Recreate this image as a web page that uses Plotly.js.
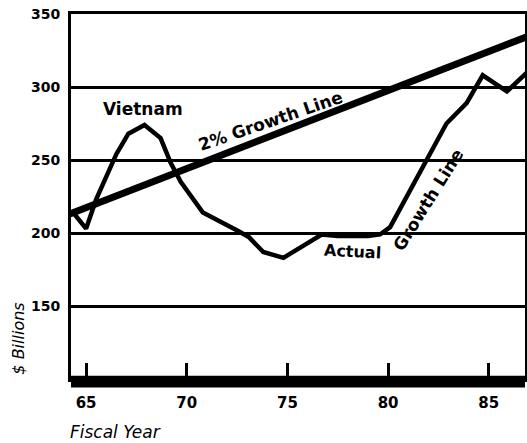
<!DOCTYPE html>
<html>
<head>
<meta charset="utf-8">
<script src="https://cdn.plot.ly/plotly-3.0.1.min.js"></script>
<style>html,body{margin:0;padding:0;background:#fff;}#chart{width:527px;height:443px;}</style>
</head>
<body>
<div id="chart"></div>
<script>
// Actual federal outlays ($ billions) by fiscal year
var actualYears = [64.3, 65.0, 65.5, 66.2, 66.5, 67.1, 67.9, 68.7, 69.2, 69.7, 70.8, 72.6, 73.1, 73.8, 74.8, 76.7, 77.5, 79.0, 79.6, 80.1, 81.7, 82.9, 83.9, 84.7, 85.9, 86.9];
var actualValues = [215, 203, 223, 245, 254, 268, 274, 265, 248, 235, 214, 201, 197, 187, 183, 199, 198, 198, 199, 204, 245, 275, 289, 308, 297, 310];
// 2% growth line end points
var growthYears = [64.0, 87.0];
var growthValues = [212, 335];
// Axis ticks
var xTicks = [65, 70, 75, 80, 85];
var xTickLabels = ["65", "70", "75", "80", "85"];
var yTicks = [150, 200, 250, 300, 350];
var yTickLabels = ["150", "200", "250", "300", "350"];

var font = "DejaVu Sans, Liberation Sans, Arial, sans-serif";

var traces = [
  {x: growthYears, y: growthValues, mode: "lines", line: {color: "#000", width: 7}, hoverinfo: "skip"},
  {x: actualYears, y: actualValues, mode: "lines", line: {color: "#000", width: 4.5}, hoverinfo: "skip"}
];

var layout = {
  width: 527, height: 443,
  margin: {l: 71, r: 2, t: 14, b: 63.5},
  paper_bgcolor: "#fff", plot_bgcolor: "#fff",
  showlegend: false,
  font: {family: font, color: "#000"},
  xaxis: {
    range: [64.25, 86.8], tickvals: xTicks, ticktext: xTickLabels,
    ticks: "inside", ticklen: 16, tickwidth: 3, tickcolor: "#000",
    showgrid: false, zeroline: false,
    showline: true, mirror: true, linewidth: 3, linecolor: "#000",
    tickfont: {family: font, size: 15, color: "#000", weight: "bold"},
    ticklabelstandoff: 8
  },
  yaxis: {
    range: [100, 350], tickvals: yTicks, ticktext: yTickLabels,
    ticks: "", showgrid: true, gridcolor: "#000", gridwidth: 3, zeroline: false,
    showline: true, mirror: true, linewidth: 3, linecolor: "#000",
    tickfont: {family: font, size: 14, color: "#000", weight: "bold"},
    ticklabelstandoff: 5
  },
  shapes: [
    {type: "rect", xref: "paper", yref: "paper", x0: 0, x1: 1, y0: -0.023, y1: 0.009,
     fillcolor: "#000", line: {width: 0}}
  ],
  annotations: [
    {xref: "x", yref: "y", x: 67.83, y: 285, text: "<b>Vietnam</b>", showarrow: false,
     font: {family: font, size: 17, color: "#000"}},
    {xref: "x", yref: "y", x: 74.14, y: 276.8, text: "<b>2% Growth Line</b>", showarrow: false,
     textangle: -19, font: {family: font, size: 17, color: "#000"}},
    {xref: "x", yref: "y", x: 78.21, y: 187.2, text: "<b>Actual</b>", showarrow: false,
     textangle: 3, font: {family: font, size: 16, color: "#000"}},
    {xref: "x", yref: "y", x: 81.98, y: 222.8, text: "<b>Growth Line</b>", showarrow: false,
     textangle: -58, font: {family: font, size: 17, color: "#000"}},
    {xref: "paper", yref: "paper", x: -0.115, y: 0.11, xanchor: "center", yanchor: "middle",
     text: "<i>$ Billions</i>", showarrow: false, textangle: -90,
     font: {family: font, size: 16, color: "#000"}},
    {xref: "paper", yref: "paper", x: -0.007, y: -0.145, xanchor: "left", yanchor: "middle",
     text: "<i>Fiscal Year</i>", showarrow: false,
     font: {family: font, size: 17, color: "#000"}}
  ]
};

Plotly.newPlot("chart", traces, layout, {displayModeBar: false, staticPlot: true});
</script>
</body>
</html>
